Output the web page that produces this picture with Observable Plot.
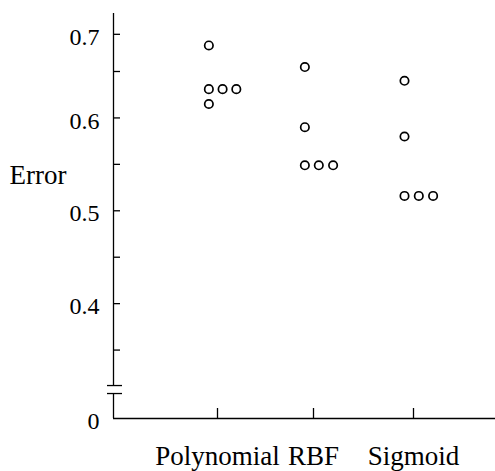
<!DOCTYPE html>
<html><head><meta charset="utf-8">
<script src="https://cdn.jsdelivr.net/npm/d3@7"></script>
<script src="https://cdn.jsdelivr.net/npm/@observablehq/plot@0.6"></script>
<style>
html,body{margin:0;padding:0;background:#fff}
#chart svg{display:block}
#chart svg text{font-family:"Liberation Serif",serif}
</style>
</head><body><div id="chart"></div>
<script>
// ---- data ----
const kernels = ["Polynomial", "RBF", "Sigmoid"];
const polynomialErrors = [0.685, 0.631, 0.631, 0.631, 0.615];
const rbfErrors = [0.656, 0.590, 0.549, 0.549, 0.549];
const sigmoidErrors = [0.640, 0.580, 0.516, 0.516, 0.516];
const yLabeledTicks = [0, 0.4, 0.5, 0.6, 0.7];
const yAllTicks = [0.35, 0.4, 0.45, 0.5, 0.55, 0.6, 0.65, 0.7];
const yLabel = "Error";
const axisBreak = [0.3032, 0.3118]; // broken y axis between 0 and 0.3

// ---- layout ----
const W = 495, H = 471;
const marginLeft = 113, marginRight = 0, marginTop = 13, marginBottom = 53;
const font = "Liberation Serif";

// scales (y is piecewise: broken axis below 0.3, tighter spacing above 0.65)
const xOpts = {type: "linear", domain: [0, 1, 2], range: [217, 313, 413]};
const yOpts = {type: "linear", domain: [0, 0.3, 0.65, 0.728], range: [H - marginBottom, 396, 71, marginTop]};
const xs = Plot.scale({x: xOpts});
const ys = Plot.scale({y: yOpts});
const axisX = xs.invert(marginLeft);
const yTickEnd = xs.invert(marginLeft + 7);
const breakX1 = xs.invert(marginLeft - 6), breakX2 = xs.invert(marginLeft + 9);
const xTickTop = ys.invert(ys.apply(0) - 10);

// dodge tied values to the right of each category
const dodgeStep = 0.143, dodgeShift = -0.09;
const points = [];
[polynomialErrors, rbfErrors, sigmoidErrors].forEach((vals, k) => {
  const seen = new Map();
  vals.forEach(v => {
    const c = seen.get(v) || 0;
    seen.set(v, c + 1);
    points.push({kernel: kernels[k], k, error: v, col: c, xpos: k + dodgeShift + c * dodgeStep});
  });
});

const axisStyle = {stroke: "#000", strokeWidth: 1.3};

const chart = Plot.plot({
  width: W, height: H,
  marginLeft, marginRight, marginTop, marginBottom,
  style: {fontFamily: font, background: "#fff", color: "#000", overflow: "visible"},
  x: xOpts,
  y: yOpts,
  axis: null,
  marks: [
    // x axis line
    Plot.ruleY([0], axisStyle),
    // broken y axis line
    Plot.ruleX([axisX], {y1: axisBreak[1], y2: 0.728, ...axisStyle}),
    Plot.ruleX([axisX], {y1: 0, y2: axisBreak[0], ...axisStyle}),
    Plot.ruleY(axisBreak, {x1: breakX1, x2: breakX2, ...axisStyle}),
    // inward y ticks
    Plot.ruleY(yAllTicks, {x1: axisX, x2: yTickEnd, ...axisStyle}),
    // upward x ticks
    Plot.ruleX([0, 1, 2], {y1: 0, y2: xTickTop, ...axisStyle}),
    // y tick labels
    Plot.text(yLabeledTicks, {
      x: axisX, y: d => d, text: d => String(d), dx: -14, dy: 3,
      textAnchor: "end", fontSize: 24, fontFamily: font, fill: "#000"
    }),
    // x tick labels
    Plot.text(kernels, {
      x: (d, i) => i, y: 0, text: d => d, dy: 27, lineAnchor: "top",
      textAnchor: "middle", fontSize: 27, fontFamily: font, fill: "#000"
    }),
    // y axis title
    Plot.text([yLabel], {x: axisX, y: 0.538, dx: -47, textAnchor: "end", fontSize: 27, fontFamily: font, fill: "#000"}),
    // data points
    Plot.dot(points, {x: "xpos", y: "error", r: 4.2, stroke: "#000", strokeWidth: 1.7, fill: "#fff"})
  ]
});
document.getElementById("chart").appendChild(chart);
</script>
</body></html>
